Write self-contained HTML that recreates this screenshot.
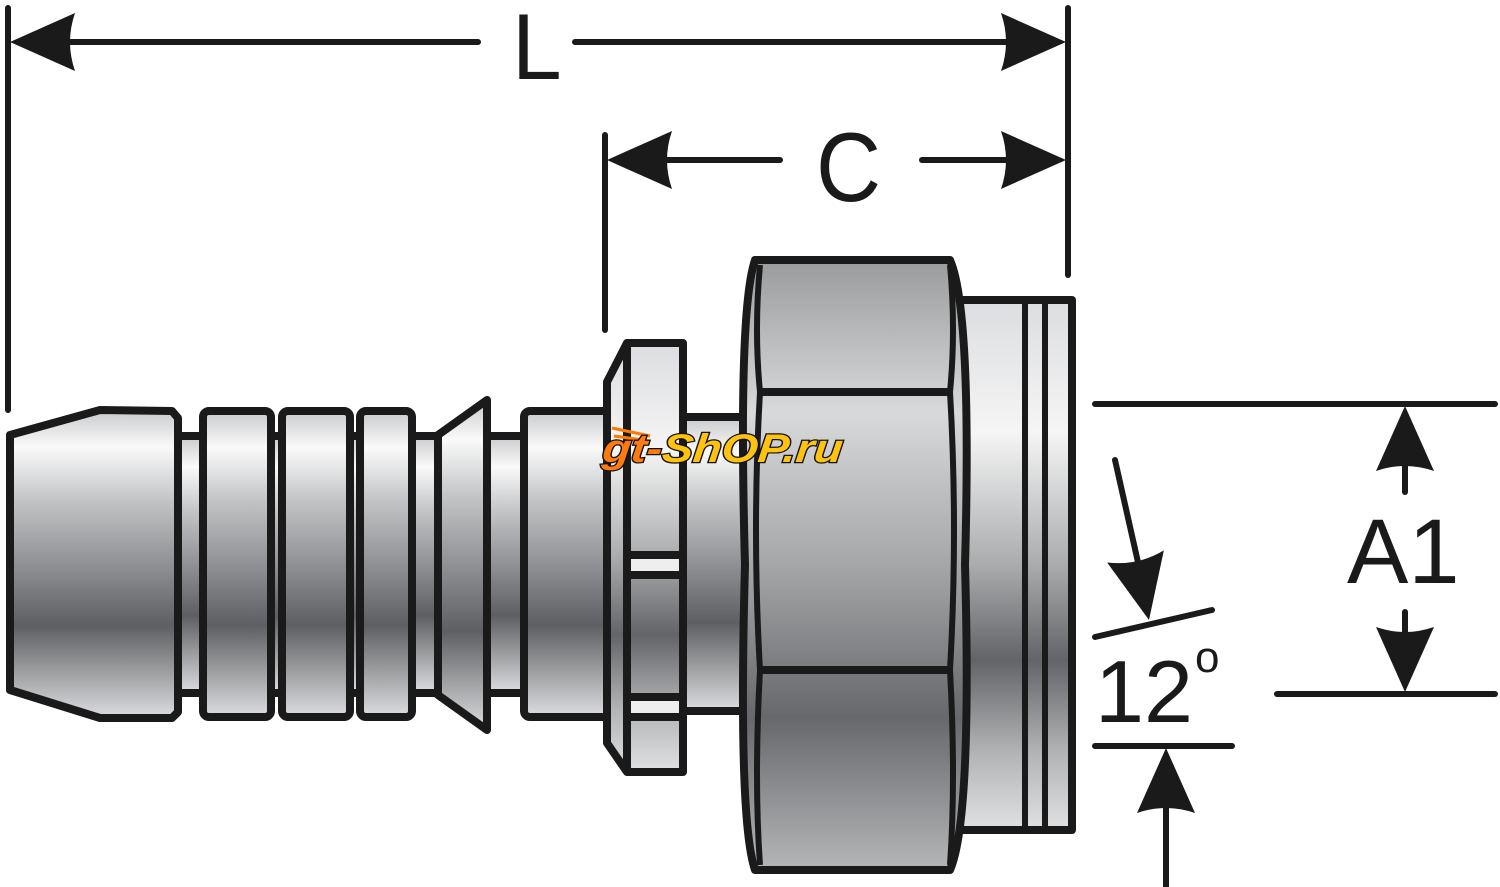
<!DOCTYPE html>
<html><head><meta charset="utf-8"><style>html,body{margin:0;padding:0;background:#fff;width:1500px;height:887px;overflow:hidden}</style></head>
<body>
<svg width="1500" height="887" viewBox="0 0 1500 887" xmlns="http://www.w3.org/2000/svg">
<defs>
<linearGradient id="m" x1="0" y1="0" x2="0" y2="1">
<stop offset="0" stop-color="#c9cacc"/>
<stop offset="0.12" stop-color="#fafafa"/>
<stop offset="0.3" stop-color="#c0c2c4"/>
<stop offset="0.5" stop-color="#8f9194"/>
<stop offset="0.7" stop-color="#5d5f62"/>
<stop offset="0.85" stop-color="#9c9ea0"/>
<stop offset="1" stop-color="#dcdde0"/>
</linearGradient>
<linearGradient id="n" x1="0" y1="0" x2="0" y2="1">
<stop offset="0" stop-color="#9a9b9d"/>
<stop offset="0.25" stop-color="#d8d9db"/>
<stop offset="0.5" stop-color="#a4a6a8"/>
<stop offset="0.75" stop-color="#66686b"/>
<stop offset="1" stop-color="#b5b6b8"/>
</linearGradient>
<linearGradient id="r" x1="0" y1="0" x2="0" y2="1">
<stop offset="0" stop-color="#dcdde0"/>
<stop offset="0.25" stop-color="#f5f5f5"/>
<stop offset="0.5" stop-color="#a9abad"/>
<stop offset="0.68" stop-color="#626467"/>
<stop offset="0.85" stop-color="#b0b2b4"/>
<stop offset="1" stop-color="#e0e1e3"/>
</linearGradient>
<path id="ah" d="M0 0 L-65 -29 Q-55 0 -65 29 Z" fill="#1a1a1a"/>
</defs>
<g stroke="#1a1a1a" stroke-width="8" stroke-linejoin="round">
<rect x="170" y="436" width="270" height="257" fill="url(#m)"/>
<rect x="480" y="436" width="50" height="257" fill="url(#m)"/>
<rect x="680" y="417" width="70" height="294" fill="url(#m)"/>
<path d="M10 435 L100 410 L172 411 L178 418 L178 712 L172 718 L100 718 L10 690 Z" fill="url(#m)"/>
<rect x="203" y="411" width="68" height="306" rx="6" fill="url(#m)"/>
<rect x="282" y="411" width="68" height="306" rx="6" fill="url(#m)"/>
<rect x="360" y="411" width="52" height="306" rx="6" fill="url(#m)"/>
<path d="M438 435 L487 400 L487 730 L438 695 Z" fill="url(#m)"/>
<rect x="524" y="411" width="90" height="306" rx="6" fill="url(#m)"/>
<path d="M607 382 L627 343 L683 343 L683 772 L627 772 L607 743 Z" fill="url(#r)"/>
<line x1="627" y1="343" x2="627" y2="772"/>
<line x1="627" y1="555" x2="683" y2="555"/>
<line x1="627" y1="575" x2="683" y2="575"/>
<line x1="627" y1="697" x2="683" y2="697"/>
<line x1="627" y1="717" x2="683" y2="717"/>
<rect x="631" y="559" width="48" height="12" fill="#eeeeef" stroke="none"/>
<rect x="631" y="701" width="48" height="12" fill="#eeeeef" stroke="none"/>
<rect x="960" y="300" width="112" height="530" fill="url(#r)"/>
<line x1="1025" y1="300" x2="1025" y2="830" stroke-width="6"/>
<line x1="1045" y1="300" x2="1045" y2="830" stroke-width="6"/>
<path d="M755 260 L950 260 Q972 310 965 565 Q972 820 950 870 L755 870 Q738 820 745 565 Q738 310 755 260 Z" fill="url(#n)"/>
<path d="M760 392 L950 392 M760 670 L950 670" fill="none"/>
<path d="M760 265 Q754 330 760 392 Q752 530 760 670 Q754 780 760 865" fill="none" stroke-width="6"/>
<path d="M950 265 Q956 330 950 392 Q958 530 950 670 Q956 780 950 865" fill="none" stroke-width="6"/>
</g>
<g stroke="#1a1a1a" stroke-width="6" stroke-linecap="round" fill="none">
<line x1="8" y1="8" x2="8" y2="410"/>
<line x1="1068" y1="8" x2="1068" y2="275"/>
<line x1="605" y1="135" x2="605" y2="330"/>
<line x1="60" y1="42" x2="478" y2="42"/>
<line x1="575" y1="42" x2="1020" y2="42"/>
<line x1="650" y1="160" x2="780" y2="160"/>
<line x1="922" y1="160" x2="1020" y2="160"/>
<line x1="1095" y1="404" x2="1495" y2="404"/>
<line x1="1277" y1="694" x2="1495" y2="694"/>
<line x1="1405" y1="460" x2="1405" y2="492"/>
<line x1="1405" y1="612" x2="1405" y2="650"/>
<line x1="1095" y1="637" x2="1212" y2="610"/>
<line x1="1095" y1="746" x2="1232" y2="746"/>
<line x1="1115" y1="460" x2="1142" y2="580"/>
<line x1="1166" y1="800" x2="1166" y2="887"/>
</g>
<use href="#ah" transform="translate(10 42) rotate(180)"/>
<use href="#ah" transform="translate(1066 42)"/>
<use href="#ah" transform="translate(607 160) rotate(180)"/>
<use href="#ah" transform="translate(1066 160)"/>
<use href="#ah" transform="translate(1405 406) rotate(-90)"/>
<use href="#ah" transform="translate(1405 692) rotate(90)"/>
<use href="#ah" transform="translate(1166 748) rotate(-90)"/>
<use href="#ah" transform="translate(1149 620) rotate(78)"/>
<g font-family="Liberation Sans, sans-serif" fill="#1a1a1a">
<text x="0" y="0" font-size="94" transform="translate(512 79) scale(0.95 1)">L</text>
<text x="0" y="0" font-size="98" transform="translate(816 201) scale(0.92 1)">C</text>
<text x="1347" y="583" font-size="92">A1</text>
<text x="1095" y="722" font-size="88">12</text>
<text x="1195" y="672" font-size="44">o</text>
</g>
<g stroke="#ff7a00" stroke-width="3"><line x1="612" y1="428" x2="650" y2="436"/><line x1="614" y1="436" x2="650" y2="441"/></g>
<text x="650" y="462" font-family="Liberation Sans, sans-serif" font-weight="bold" font-style="italic" font-size="40" stroke="#111" stroke-width="2.5" paint-order="stroke" textLength="240" lengthAdjust="spacingAndGlyphs" transform="skewX(-6)"><tspan fill="#ff7b0f">gt-</tspan><tspan fill="#ffc20e">ShOP.ru</tspan></text>
</svg>
</body></html>
